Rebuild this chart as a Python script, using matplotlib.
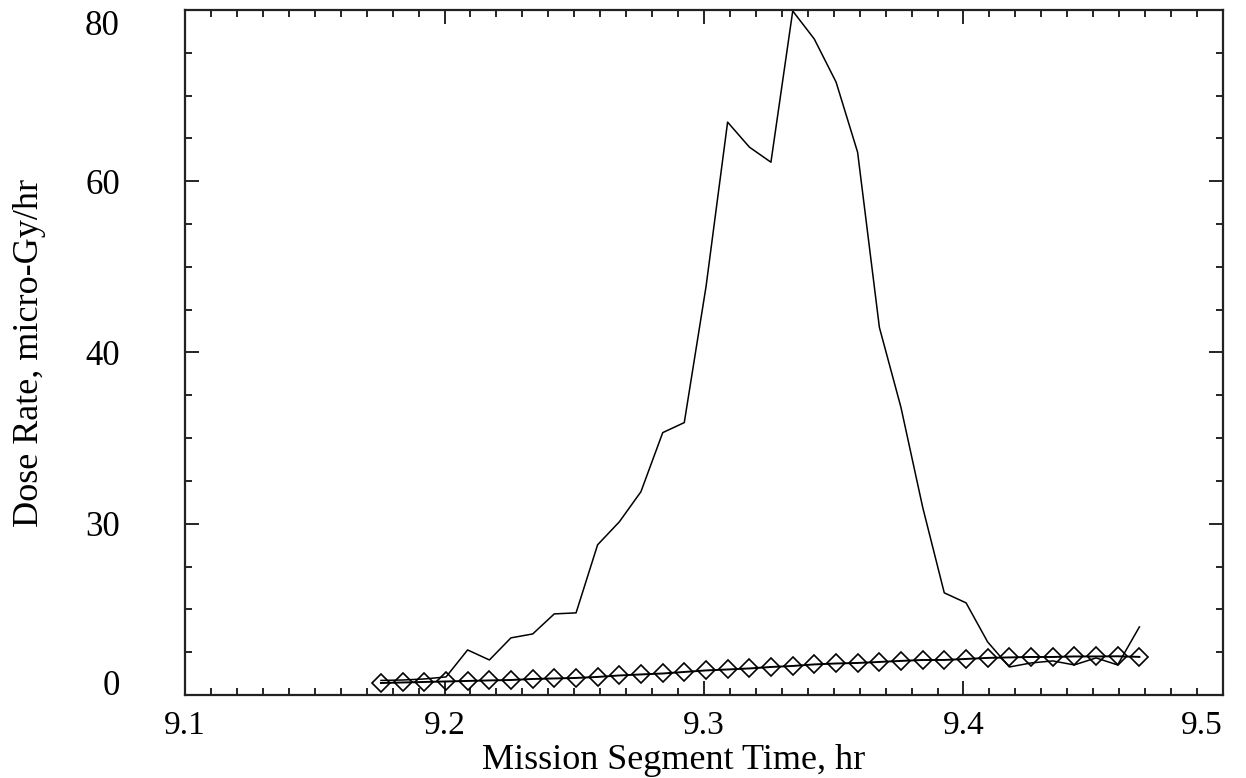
import matplotlib
matplotlib.use("Agg")
import matplotlib.pyplot as plt
from matplotlib.ticker import MultipleLocator, FixedLocator, FixedFormatter

plt.rcParams['font.family'] = ['Liberation Serif', 'DejaVu Serif']

# Mission segment time (hr)
time_hr = [9.1755, 9.1839, 9.1922, 9.2006, 9.2089, 9.2173, 9.2256, 9.2340,
           9.2423, 9.2507, 9.2590, 9.2674, 9.2757, 9.2841, 9.2924, 9.3008,
           9.3091, 9.3175, 9.3258, 9.3342, 9.3425, 9.3509, 9.3592, 9.3676,
           9.3759, 9.3843, 9.3926, 9.4010, 9.4093, 9.4177, 9.4260, 9.4344,
           9.4427, 9.4511, 9.4594, 9.4678]

# Measured dose rate (micro-Gy/hr), plain line
dose_measured = [1.70, 1.75, 1.87, 2.11, 5.26, 4.09, 6.67, 7.13,
                 9.47, 9.59, 17.54, 20.23, 23.74, 30.64, 31.81, 47.72,
                 66.90, 63.98, 62.22, 79.88, 76.61, 71.58, 63.39, 42.92,
                 33.60, 21.90, 11.93, 10.76, 6.20, 3.27, 3.74, 3.98,
                 3.51, 4.33, 3.51, 7.95]

# Second series (diamonds)
dose_diamond = [1.40, 1.46, 1.52, 1.58, 1.64, 1.70, 1.75, 1.87,
                1.93, 1.99, 2.11, 2.28, 2.40, 2.51, 2.69, 2.87,
                2.98, 3.10, 3.27, 3.39, 3.57, 3.68, 3.74, 3.86,
                3.98, 4.09, 4.09, 4.21, 4.33, 4.39, 4.44, 4.44,
                4.50, 4.50, 4.52, 4.45]

x_ticks = [9.1, 9.2, 9.3, 9.4, 9.5]
x_tick_labels = ['9.1', '9.2', '9.3', '9.4', '9.5']
y_ticks = [0, 20, 40, 60, 80]
y_tick_labels = ['0', '30', '40', '60', '80']

fig = plt.figure(figsize=(12.46, 7.78), dpi=100)
ax = fig.add_axes([0.1485, 0.1067, 0.833, 0.8805])

ax.plot(time_hr, dose_measured, color='black', lw=1.1)
ax.plot(time_hr, dose_diamond, color='black', lw=1.4, marker='D',
        markersize=9, markerfacecolor='none', markeredgecolor='black',
        markeredgewidth=1.2)

ax.set_xlim(9.1, 9.5)
ax.set_ylim(0, 80)

ax.xaxis.set_major_locator(FixedLocator(x_ticks))
ax.xaxis.set_major_formatter(FixedFormatter(x_tick_labels))
ax.xaxis.set_minor_locator(MultipleLocator(0.01))
ax.yaxis.set_major_locator(FixedLocator(y_ticks))
ax.yaxis.set_major_formatter(FixedFormatter(y_tick_labels))
ax.yaxis.set_minor_locator(MultipleLocator(5))

ax.tick_params(which='both', direction='in', top=True, right=True,
               color='black', width=1.2)
ax.tick_params(which='major', length=10)
ax.tick_params(which='minor', length=5)
ax.tick_params(axis='x', which='major', labelsize=24, pad=11)
ax.tick_params(axis='y', which='major', labelsize=25, pad=47)

for s in ax.spines.values():
    s.set_linewidth(1.6)
    s.set_color('#222222')

ax.set_xlabel('Mission Segment Time, hr', fontsize=26, va='baseline')
ax.set_ylabel('Dose Rate, micro-Gy/hr', fontsize=26, labelpad=28)
ax.xaxis.set_label_coords(0.471, -0.108)

fig.canvas.draw()
ylabels = ax.get_yticklabels()
ylabels[0].set_va('baseline')
ylabels[-1].set_va('top')
xlabels = ax.get_xticklabels()
xlabels[-1].set_ha('right')

fig.savefig('out.png', dpi=100)
